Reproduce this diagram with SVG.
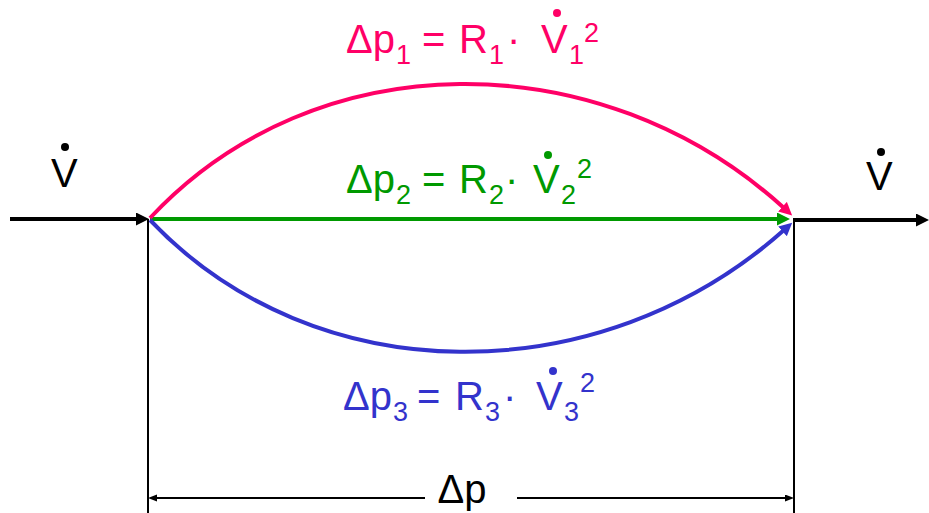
<svg xmlns="http://www.w3.org/2000/svg" width="929" height="513" viewBox="0 0 929 513">
<style>
text{font-family:"Liberation Sans",Arial,sans-serif}
.m{font-size:40px}
.s{font-size:27px}
.pk{fill:#FF0066}
.gr{fill:#009900}
.bl{fill:#3333CC}
.bk{fill:#000}
.ln{fill:none}
</style>
<defs>
<marker id="ak" markerUnits="userSpaceOnUse" markerWidth="16" markerHeight="16" refX="2" refY="6.5" orient="auto"><path d="M0,0 L13,6.5 L0,13 z" fill="#000"/></marker>
<marker id="ap" markerUnits="userSpaceOnUse" markerWidth="16" markerHeight="16" refX="2" refY="6.5" orient="auto"><path d="M0,0 L13,6.5 L0,13 z" fill="#FF0066"/></marker>
<marker id="ag" markerUnits="userSpaceOnUse" markerWidth="16" markerHeight="16" refX="2" refY="6.5" orient="auto"><path d="M0,0 L13,6.5 L0,13 z" fill="#009900"/></marker>
<marker id="ab" markerUnits="userSpaceOnUse" markerWidth="16" markerHeight="16" refX="2" refY="6.5" orient="auto"><path d="M0,0 L13,6.5 L0,13 z" fill="#3333CC"/></marker>
<marker id="ad" markerUnits="userSpaceOnUse" markerWidth="10" markerHeight="8" refX="0" refY="3.5" orient="auto"><path d="M0,0 L9,3.5 L0,7 z" fill="#000"/></marker>
</defs>
<g id="connectors">
<path d="M10,219 H138" stroke="#000" stroke-width="4" class="ln" marker-end="url(#ak)"/>
<path d="M793,220 H918" stroke="#000" stroke-width="4" class="ln" marker-end="url(#ak)"/>
<path d="M150,219 H779" stroke="#009900" stroke-width="4" class="ln" marker-end="url(#ag)"/>
<path d="M150,218 C315,41 600,41 784,208" stroke="#FF0066" stroke-width="4" class="ln" marker-end="url(#ap)"/>
<path d="M150,220 C315,394 600,394 784,230" stroke="#3333CC" stroke-width="4" class="ln" marker-end="url(#ab)"/>
<path d="M148,219 V513" stroke="#000" stroke-width="2" class="ln"/>
<path d="M794,219 V513" stroke="#000" stroke-width="2" class="ln"/>
<path d="M425,498 H157" stroke="#000" stroke-width="2" class="ln" marker-end="url(#ad)"/>
<path d="M517,498 H785" stroke="#000" stroke-width="2" class="ln" marker-end="url(#ad)"/>
</g>
<g id="label-pink">
<text class="m pk" y="53"><tspan x="346">Δp</tspan><tspan class="s" x="396" y="64">1</tspan><tspan x="422" y="53">=</tspan><tspan x="459" y="53">R</tspan><tspan class="s" x="489" y="64">1</tspan><tspan x="507" y="53">·</tspan><tspan x="541" y="53">V</tspan><tspan class="s" x="569" y="64">1</tspan><tspan class="s" x="584" y="42">2</tspan></text>
<circle cx="557" cy="13" r="4" fill="#FF0066"/>
</g>
<g id="label-green">
<text class="m gr" y="193"><tspan x="346">Δp</tspan><tspan class="s" x="396" y="204">2</tspan><tspan x="422" y="193">=</tspan><tspan x="459" y="193">R</tspan><tspan class="s" x="489" y="204">2</tspan><tspan x="505" y="193">·</tspan><tspan x="533" y="193">V</tspan><tspan class="s" x="561" y="204">2</tspan><tspan class="s" x="577" y="178">2</tspan></text>
<circle cx="548" cy="155" r="4" fill="#009900"/>
</g>
<g id="label-blue">
<text class="m bl" y="410"><tspan x="343">Δp</tspan><tspan class="s" x="393" y="421">3</tspan><tspan x="417" y="410">=</tspan><tspan x="455" y="410">R</tspan><tspan class="s" x="485" y="421">3</tspan><tspan x="503" y="410">·</tspan><tspan x="536" y="410">V</tspan><tspan class="s" x="564" y="421">3</tspan><tspan class="s" x="580" y="392">2</tspan></text>
<circle cx="553" cy="371" r="4" fill="#3333CC"/>
</g>
<g id="label-in">
<text class="bk" x="51" y="187" font-size="40">V</text>
<circle cx="65" cy="147" r="4" fill="#000"/>
</g>
<g id="label-out">
<text class="bk" x="866" y="190" font-size="40">V</text>
<circle cx="881" cy="152" r="4" fill="#000"/>
</g>
<g id="label-dp">
<text class="bk" x="462" y="503" font-size="40" text-anchor="middle">Δp</text>
</g>
</svg>
